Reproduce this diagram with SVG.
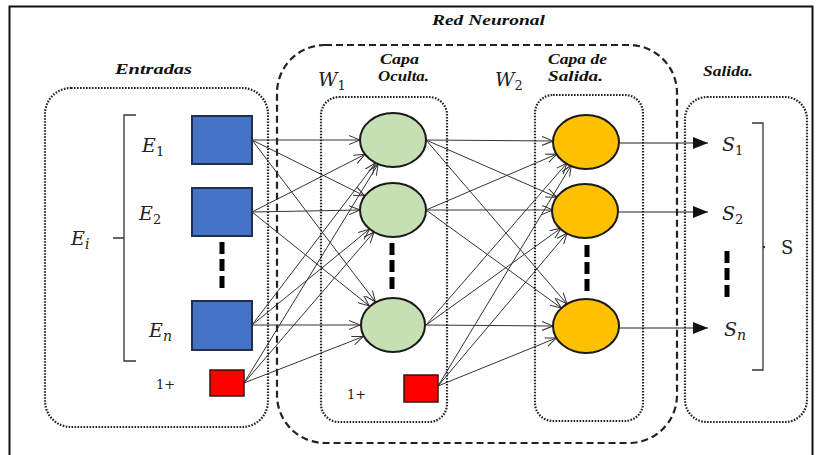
<svg xmlns="http://www.w3.org/2000/svg" width="816" height="455" viewBox="0 0 816 455">
  <style>
    .frame { fill: none; stroke: #111; stroke-width: 2; }
    .dotbox { fill: none; stroke: #222; stroke-width: 2.2; stroke-dasharray: 1.6 1.4; }
    .dashbox { fill: none; stroke: #222; stroke-width: 2.2; stroke-dasharray: 7 4; }
    .title { font-family: "Liberation Serif", "DejaVu Serif", serif; font-weight: bold; font-style: italic; font-size: 15px; fill: #111; }
    .math { font-family: "DejaVu Serif", "Liberation Serif", serif; font-style: italic; font-size: 19px; fill: #222; }
    .sub { font-family: "DejaVu Serif", "Liberation Serif", serif; font-style: normal; font-size: 13px; }
    .subi { font-family: "DejaVu Serif", "Liberation Serif", serif; font-style: italic; font-size: 14px; }
    .plain { font-family: "DejaVu Serif", "Liberation Serif", serif; font-size: 13px; fill: #222; }
    .bigS { font-family: "DejaVu Serif", "Liberation Serif", serif; font-size: 18px; fill: #222; }
    .inp { fill: #4472c4; stroke: #1f2f4f; stroke-width: 2; }
    .bias { fill: #ff0000; stroke: #3a1010; stroke-width: 1.5; }
    .hid { fill: #c6e0b4; stroke: #1a1a1a; stroke-width: 2; }
    .out { fill: #ffc000; stroke: #1a1a1a; stroke-width: 2; }
    .bar { stroke: #000; stroke-width: 5; stroke-dasharray: 12 5; }
    .w { fill: none; stroke: #333; stroke-width: 1; marker-end: url(#open); }
    .o { fill: none; stroke: #222; stroke-width: 1.2; marker-end: url(#solid); }
    .brk { fill: none; stroke: #333; stroke-width: 1.3; }
  </style>
  <defs>
    <marker id="open" markerWidth="12" markerHeight="10" refX="11" refY="5" orient="auto" markerUnits="userSpaceOnUse">
      <path d="M0,0.5 L11,5 L0,9.5" fill="none" stroke="#333" stroke-width="1"/>
    </marker>
    <marker id="solid" markerWidth="16" markerHeight="12" refX="15" refY="6" orient="auto" markerUnits="userSpaceOnUse">
      <path d="M0,0 L15,6 L0,12 Z" fill="#111"/>
    </marker>
  </defs>

  <rect width="816" height="455" fill="#ffffff"/>
  <rect class="frame" x="9.5" y="6.5" width="803" height="470"/>

  <!-- group outlines -->
  <g id="entradas">
    <rect class="dotbox" x="45" y="88" width="223" height="339" rx="26"/>
    <text class="title" x="115" y="74" textLength="77" lengthAdjust="spacingAndGlyphs">Entradas</text>
  </g>
  <g id="red-neuronal">
    <rect class="dashbox" x="277" y="45" width="400" height="398" rx="48"/>
    <text class="title" x="432" y="25" textLength="113" lengthAdjust="spacingAndGlyphs">Red Neuronal</text>
  </g>
  <g id="capa-oculta">
    <rect class="dotbox" x="321" y="97" width="126" height="325" rx="18"/>
    <text class="title" x="380" y="64" textLength="39" lengthAdjust="spacingAndGlyphs">Capa</text>
    <text class="title" x="378" y="81" textLength="51" lengthAdjust="spacingAndGlyphs">Oculta.</text>
  </g>
  <g id="capa-salida">
    <rect class="dotbox" x="535" y="95" width="108" height="326" rx="18"/>
    <text class="title" x="548" y="64" textLength="59" lengthAdjust="spacingAndGlyphs">Capa de</text>
    <text class="title" x="548" y="81" textLength="55" lengthAdjust="spacingAndGlyphs">Salida.</text>
  </g>
  <g id="salida">
    <rect class="dotbox" x="685" y="97" width="122" height="325" rx="22"/>
    <text class="title" x="703" y="76" textLength="50" lengthAdjust="spacingAndGlyphs">Salida.</text>
  </g>

  <!-- weight labels -->
  <text class="math" x="318" y="86">W<tspan class="sub" dy="4">1</tspan></text>
  <text class="math" x="495" y="86">W<tspan class="sub" dy="4">2</tspan></text>

  <!-- connectors -->
  <g id="connectors">
    <!-- W1: inputs and bias to hidden layer -->
    <line class="w" x1="252" y1="140" x2="360" y2="140"/>
    <line class="w" x1="252" y1="140" x2="364.8" y2="196"/>
    <line class="w" x1="252" y1="140" x2="375.5" y2="302"/>
    <line class="w" x1="252" y1="212" x2="365" y2="154.3"/>
    <line class="w" x1="252" y1="212" x2="360" y2="210"/>
    <line class="w" x1="252" y1="212" x2="369.4" y2="306"/>
    <line class="w" x1="252" y1="325" x2="375.5" y2="163"/>
    <line class="w" x1="252" y1="325" x2="369.6" y2="229"/>
    <line class="w" x1="252" y1="325" x2="360" y2="325"/>
    <line class="w" x1="244" y1="383" x2="378.2" y2="164"/>
    <line class="w" x1="244" y1="383" x2="374" y2="232"/>
    <line class="w" x1="244" y1="383" x2="363.2" y2="336.6"/>
    <!-- W2: hidden layer and bias to output layer -->
    <line class="w" x1="426" y1="140" x2="553" y2="141"/>
    <line class="w" x1="426" y1="140" x2="556.9" y2="197.3"/>
    <line class="w" x1="426" y1="140" x2="567" y2="304"/>
    <line class="w" x1="426" y1="210" x2="556.9" y2="154"/>
    <line class="w" x1="426" y1="210" x2="553" y2="210"/>
    <line class="w" x1="426" y1="210" x2="561.3" y2="308"/>
    <line class="w" x1="426" y1="325" x2="567" y2="163"/>
    <line class="w" x1="426" y1="325" x2="561.2" y2="228"/>
    <line class="w" x1="426" y1="325" x2="553" y2="326"/>
    <line class="w" x1="438" y1="386" x2="571.4" y2="165"/>
    <line class="w" x1="438" y1="386" x2="567.2" y2="233"/>
    <line class="w" x1="438" y1="386" x2="556.3" y2="338"/>
    <!-- outputs -->
    <line class="o" x1="619" y1="143" x2="708" y2="143"/>
    <line class="o" x1="618" y1="212" x2="708" y2="212"/>
    <line class="o" x1="619" y1="328" x2="708" y2="328"/>
  </g>

  <!-- input nodes -->
  <g id="in-1"><rect class="inp" x="192" y="116" width="60" height="48"/><text class="math" x="142" y="152">E<tspan class="sub" dy="4">1</tspan></text></g>
  <g id="in-2"><rect class="inp" x="192" y="188" width="60" height="48"/><text class="math" x="139" y="220">E<tspan class="sub" dy="4">2</tspan></text></g>
  <g id="in-n"><rect class="inp" x="192" y="301" width="60" height="49"/><text class="math" x="149" y="337">E<tspan class="subi" dy="4">n</tspan></text></g>
  <g id="in-bias"><rect class="bias" x="210" y="370" width="34" height="26"/><text class="plain" x="156" y="389">1+</text></g>
  <line class="bar" x1="222" y1="242" x2="222" y2="288"/>
  <g id="in-bracket">
    <path class="brk" d="M136,115 L124,115 L124,361 L136,361 M124,238 L113,238"/>
    <text class="math" x="71" y="245">E<tspan class="subi" dy="4">i</tspan></text>
  </g>

  <!-- hidden nodes -->
  <g id="hid-1"><ellipse class="hid" cx="393" cy="140" rx="33" ry="27"/></g>
  <g id="hid-2"><ellipse class="hid" cx="393" cy="210" rx="33" ry="27"/></g>
  <g id="hid-n"><ellipse class="hid" cx="393" cy="325" rx="32" ry="27"/></g>
  <g id="hid-bias"><rect class="bias" x="404" y="375" width="34" height="27"/><text class="plain" x="347" y="399">1+</text></g>
  <line class="bar" x1="392" y1="243" x2="392" y2="289"/>

  <!-- output nodes -->
  <g id="out-1"><ellipse class="out" cx="586" cy="142" rx="33" ry="27"/></g>
  <g id="out-2"><ellipse class="out" cx="585" cy="211" rx="33" ry="27"/></g>
  <g id="out-n"><ellipse class="out" cx="586" cy="326" rx="33" ry="27"/></g>
  <line class="bar" x1="587" y1="245" x2="587" y2="291"/>

  <!-- output labels -->
  <g id="s-1"><text class="math" x="722" y="151">S<tspan class="sub" dy="4">1</tspan></text></g>
  <g id="s-2"><text class="math" x="722" y="220">S<tspan class="sub" dy="4">2</tspan></text></g>
  <g id="s-n"><text class="math" x="724" y="336">S<tspan class="subi" dy="4">n</tspan></text></g>
  <line class="bar" x1="727" y1="251" x2="727" y2="297"/>
  <g id="s-bracket">
    <path class="brk" d="M752,123 L763,123 L763,370 L752,370"/>
    <circle cx="764" cy="247" r="1.2" fill="#333"/>
    <text class="bigS" x="781" y="254">S</text>
  </g>
</svg>
